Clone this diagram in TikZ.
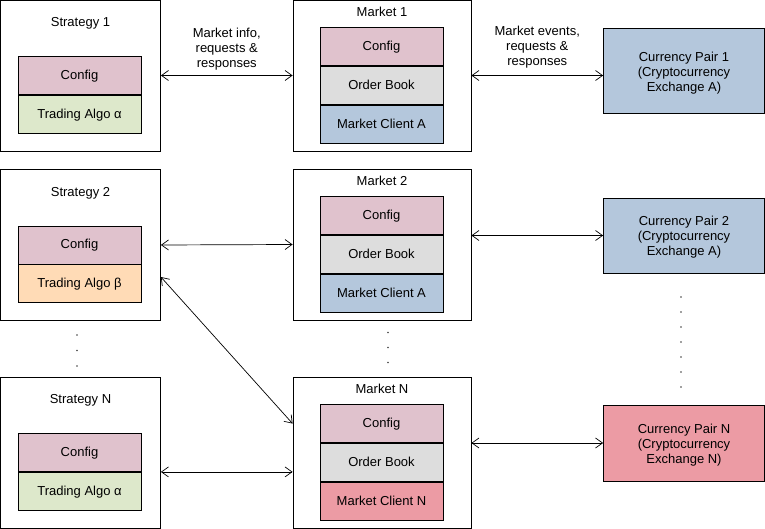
\documentclass[tikz,border=0pt]{standalone}
\usepackage{fontspec}
\setmainfont{Liberation Sans}
\usetikzlibrary{arrows.meta,positioning,calc}
\definecolor{cfgpink}{HTML}{E0C2CD}
\definecolor{algogreen}{HTML}{DDE8CB}
\definecolor{algoorange}{HTML}{FFDBB6}
\definecolor{bookgray}{HTML}{DDDDDD}
\definecolor{clientblue}{HTML}{B4C7DC}
\definecolor{clientred}{HTML}{EC9BA4}
\newcommand{\diagfont}{\fontsize{13}{15}\selectfont}
\tikzset{
  stratbox/.style={draw,line width=0.8pt,minimum width=160pt,minimum height=151pt,inner sep=0pt},
  mktbox/.style={draw,line width=0.8pt,minimum width=178pt,minimum height=151pt,inner sep=0pt},
  partbox/.style={draw,line width=0.8pt,minimum width=123pt,minimum height=38pt,inner sep=0pt,font=\diagfont,text height=10pt,text depth=2pt},
  pairbox/.style={draw,line width=0.8pt,minimum width=161pt,inner sep=0pt},
  pairtext/.style={font=\diagfont,align=center,inner sep=0pt},
  boxtitle/.style={font=\diagfont,inner sep=0pt,text height=10pt,text depth=2pt},
  link/.style={{Straight Barb[length=7pt,width=10pt]}-{Straight Barb[length=7pt,width=10pt]},line width=0.7pt},
  linklabel/.style={font=\diagfont,align=center},
  moredots/.style={fill=black!75}
}
\begin{document}
\begin{tikzpicture}[x=1pt,y=-1pt]
\useasboundingbox (0,0) rectangle (765,529);
% strategies
\foreach \i/\y/\algo/\col in {1/75.5/α/algogreen, 2/245/β/algoorange, N/452.5/α/algogreen}{
  \node[stratbox] (s\i) at (80.5,\y) {};
  \node[boxtitle] (st\i) at ($(s\i.north)+(0,23)$) {Strategy \i};
  \node[partbox,fill=cfgpink] (sc\i) at (79.5,\y) {Config};
  \node[partbox,fill=\col,below=0pt of sc\i] (sa\i) {Trading Algo \algo};
}
% markets
\foreach \i/\y/\cl/\col in {1/75.5/A/clientblue, 2/244.5/A/clientblue, N/452.5/N/clientred}{
  \node[mktbox] (m\i) at (382,\y) {};
  \node[boxtitle] (mt\i) at ($(m\i.north)+(0,12.5)$) {Market \i};
  \node[partbox,fill=cfgpink] (mc\i) at ($(m\i.north)+(-0.5,47)$) {Config};
  \node[partbox,fill=bookgray,below=0pt of mc\i] (mb\i) {Order Book};
  \node[partbox,fill=\col,below=0pt of mb\i] (mk\i) {Market Client \cl};
}
% currency pairs
\node[pairbox,fill=clientblue,minimum height=85pt] (p1) at (684,70.5) {};
\node[pairtext] (pt1) at ([yshift=-2.5pt]p1.center) {Currency Pair 1\\(Cryptocurrency\\Exchange A)};
\node[pairbox,fill=clientblue,minimum height=75pt] (p2) at (684,235.5) {};
\node[pairtext] (pt2) at ([yshift=-2pt]p2.center) {Currency Pair 2\\(Cryptocurrency\\Exchange A)};
\node[pairbox,fill=clientred,minimum height=76pt] (pN) at (684,443) {};
\node[pairtext] (ptN) at ([yshift=-2pt]pN.center) {Currency Pair N\\(Cryptocurrency\\Exchange N)};
% links
\draw[link] (s1.east) -- node[linklabel,above=2pt]{Market info,\\requests \&\\responses} (m1.west);
\draw[link] (m1.east) -- node[linklabel,above=4pt]{Market events,\\requests \&\\responses} (m1.east -| p1.west);
\draw[link] (s2.east) -- (m2.west);
\draw[link] (p2.west -| m2.east) -- (p2.west);
\draw[link] (sN.east |- scN.south) -- (mN.west |- scN.south);
\draw[link] (pN.west -| mN.east) -- (pN.west);
\draw[link] ([yshift=-32pt]s2.east) -- (mN.west |- mcN);
% dots
\foreach \y in {335,350.5,366} \fill[moredots] (77,\y) circle (0.8pt);
\foreach \y in {332.5,347.5,362.5} \fill[moredots] (388,\y) circle (0.8pt);
\foreach \y in {297,312,327,342,357,372,387} \fill[moredots] (681,\y) circle (0.8pt);
\end{tikzpicture}
\end{document}
